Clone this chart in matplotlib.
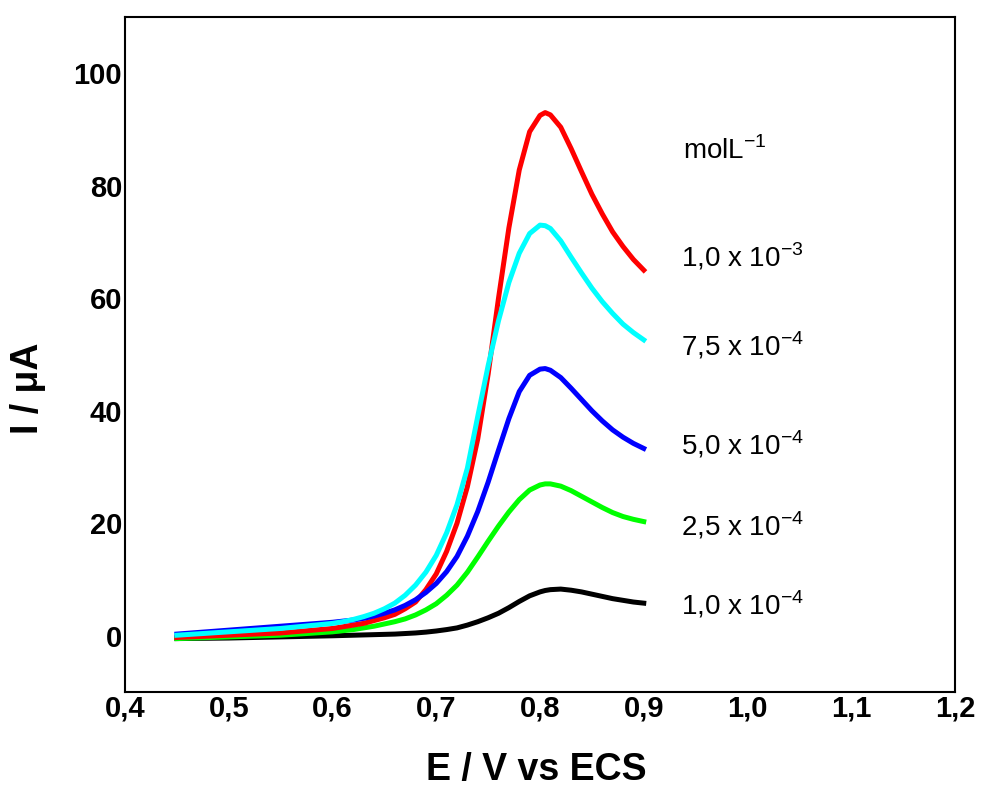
import numpy as np
import matplotlib.pyplot as plt

plt.rcParams['font.family'] = ['Liberation Sans', 'DejaVu Sans']
plt.rcParams['mathtext.fontset'] = 'custom'
plt.rcParams['mathtext.rm'] = 'Liberation Sans'
plt.rcParams['mathtext.sf'] = 'Liberation Sans'

# potential (V vs ECS)
E = [0.45, 0.50, 0.55, 0.60, 0.61, 0.62, 0.63, 0.64, 0.65, 0.66, 0.67, 0.68,
     0.69, 0.70, 0.71, 0.72, 0.73, 0.74, 0.75, 0.76, 0.77, 0.78, 0.79, 0.80,
     0.805, 0.81, 0.82, 0.83, 0.84, 0.85, 0.86, 0.87, 0.88, 0.89, 0.90]

# current (uA) for each concentration
i_1e4 = [-0.5, -0.4, -0.2, 0.0, 0.05, 0.1, 0.15, 0.2, 0.25, 0.3, 0.4, 0.5,
         0.65, 0.85, 1.1, 1.4, 1.9, 2.5, 3.2, 4.0, 5.0, 6.1, 7.1, 7.8,
         8.05, 8.2, 8.3, 8.1, 7.8, 7.4, 7.0, 6.6, 6.3, 6.0, 5.8]
i_25e4 = [-0.5, -0.2, 0.1, 0.7, 0.9, 1.1, 1.4, 1.7, 2.1, 2.5, 3.0, 3.7,
          4.6, 5.7, 7.2, 9.0, 11.3, 14.0, 16.8, 19.5, 22.0, 24.2, 25.9, 26.8,
          27.0, 27.0, 26.6, 25.8, 24.8, 23.8, 22.8, 21.9, 21.2, 20.7, 20.3]
i_5e4 = [0.3, 1.0, 1.7, 2.4, 2.6, 2.8, 3.1, 3.5, 4.0, 4.6, 5.4, 6.4,
         7.7, 9.3, 11.4, 14.1, 17.7, 22.1, 27.3, 33.0, 38.6, 43.4, 46.3, 47.4,
         47.5, 47.2, 45.9, 44.0, 42.0, 40.0, 38.2, 36.6, 35.3, 34.2, 33.3]
i_75e4 = [0.1, 0.7, 1.3, 2.2, 2.5, 2.9, 3.4, 4.0, 4.8, 5.8, 7.2, 9.0,
          11.3, 14.3, 18.3, 23.3, 29.8, 39.0, 48.0, 56.0, 62.8, 68.0, 71.5, 73.0,
          72.9, 72.4, 70.2, 67.3, 64.5, 61.8, 59.4, 57.3, 55.4, 53.9, 52.6]
i_1e3 = [-0.3, 0.1, 0.5, 1.3, 1.6, 1.9, 2.2, 2.7, 3.2, 3.8, 4.8, 6.0,
         8.2, 11.0, 15.0, 20.0, 26.5, 35.0, 46.5, 60.0, 72.5, 82.8, 89.6, 92.5,
         93.0, 92.6, 90.4, 86.6, 82.5, 78.5, 75.0, 71.8, 69.2, 66.9, 65.0]

labels = ['1,0 x 10$^{\\mathsf{-4}}$', '2,5 x 10$^{\\mathsf{-4}}$',
          '5,0 x 10$^{\\mathsf{-4}}$', '7,5 x 10$^{\\mathsf{-4}}$',
          '1,0 x 10$^{\\mathsf{-3}}$']
label_y = [3.7, 17.9, 32.2, 49.9, 65.7]

fig = plt.figure(figsize=(9.82, 7.89), dpi=100)
ax = fig.add_axes([0.1273, 0.1229, 0.8452, 0.8556])

ax.plot(E, i_1e4, color='black', lw=3.6)
ax.plot(E, i_25e4, color='#00ff00', lw=3.6)
ax.plot(E, i_1e3, color='red', lw=3.6)
ax.plot(E, i_5e4, color='blue', lw=3.6)
ax.plot(E, i_75e4, color='cyan', lw=3.6)

ax.text(0.9375, 84.8, 'molL$^{\\mathsf{-1}}$', fontsize=20, va='baseline')
for lab, yy in zip(labels, label_y):
    ax.text(0.9355, yy, lab, fontsize=20, va='baseline')

ax.set_xlim(0.4, 1.2)
ax.set_ylim(-10, 110)
ax.set_xticks(np.arange(0.4, 1.21, 0.1))
ax.set_xticklabels(['0,4', '0,5', '0,6', '0,7', '0,8', '0,9', '1,0', '1,1', '1,2'])
ax.set_yticks([0, 20, 40, 60, 80, 100])
ax.tick_params(length=0, pad=2, labelsize=21)
for t in ax.get_xticklabels() + ax.get_yticklabels():
    t.set_fontweight('bold')
for s in ax.spines.values():
    s.set_linewidth(1.5)

ax.set_xlabel('E / V vs ECS', fontsize=27, fontweight='bold', va='center')
ax.xaxis.set_label_coords(0.496, -0.116)
ax.set_ylabel('I / \u03bcA', fontsize=27, fontweight='bold', va='center')
ax.yaxis.set_label_coords(-0.117, 0.45)

fig.savefig('out.png', dpi=100)
